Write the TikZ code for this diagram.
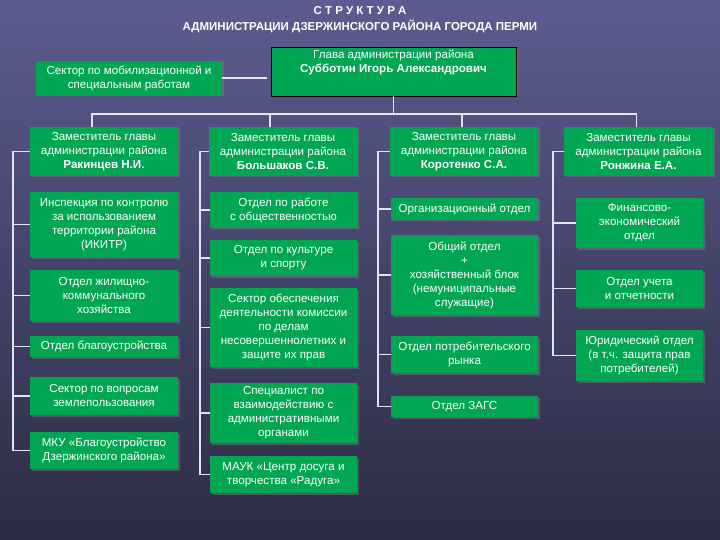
\documentclass[tikz,border=0pt]{standalone}
\usepackage{fontspec}
\setmainfont{Liberation Sans}
\usetikzlibrary{shadows}
\definecolor{boxgreen}{RGB}{0,166,81}
\definecolor{linewhite}{RGB}{226,226,242}
\definecolor{bgtop}{RGB}{92,92,144}
\definecolor{bgbottom}{RGB}{44,44,68}

\begin{document}
\begin{tikzpicture}[x=1pt,y=-1pt,
        box/.style={fill=boxgreen,text=white,align=center,inner sep=0pt,
            font=\fontsize{11.6}{14}\selectfont,
            drop shadow={shadow xshift=1.5pt,shadow yshift=-1.5pt,opacity=0.45}},
        conn/.style={draw=linewhite,line width=1.8pt},
        titletext/.style={text=white,font=\bfseries\fontsize{11.5}{13}\selectfont}]
        \useasboundingbox (0,0) rectangle (720,540);
        \shade [top color=bgtop,bottom color=bgbottom] (0,0) rectangle (720,540);
        \node [titletext] (title1) at (360,11) {С Т Р У К Т У Р А};
        \node [titletext] (title2) at (360,26) {АДМИНИСТРАЦИИ ДЗЕРЖИНСКОГО РАЙОНА ГОРОДА ПЕРМИ};
        \node [box,minimum width=186pt,minimum height=34pt] (mob) at (129,78) {Сектор по мобилизационной и\\специальным работам};
        \node [box,draw=black,line width=0.8pt,minimum width=245pt,minimum height=49pt] (glava) at (393.5,71.5) {};
        \node [text=white,align=center,anchor=north,inner sep=0pt,font=\fontsize{11.6}{14}\selectfont] (glavat) at (393.5,50) {Глава администрации района\\\textbf{Субботин Игорь Александрович}};
        \node [box,minimum width=148pt,minimum height=49pt] (dep1) at (104,151.5) {Заместитель главы\\администрации района\\\textbf{Ракинцев Н.И.}};
        \node [box,minimum width=148pt,minimum height=49pt] (dep2) at (283,151.5) {Заместитель главы\\администрации района\\\textbf{Большаков С.В.}};
        \node [box,minimum width=148pt,minimum height=49pt] (dep3) at (464,151.5) {Заместитель главы\\администрации района\\\textbf{Коротенко С.А.}};
        \node [box,minimum width=149pt,minimum height=49pt] (dep4) at (638.5,151.5) {Заместитель главы\\администрации района\\\textbf{Ронжина Е.А.}};
        \node [box,minimum width=148pt,minimum height=65pt] (insp) at (104,224.5) {Инспекция по контролю\\за использованием\\территории района\\(ИКИТР)};
        \node [box,minimum width=148pt,minimum height=51pt] (zhkh) at (104,295.5) {Отдел жилищно-\\коммунального\\хозяйства};
        \node [box,minimum width=148pt,minimum height=21pt] (blag) at (104,346.5) {Отдел благоустройства};
        \node [box,minimum width=148pt,minimum height=38pt] (zeml) at (104,396) {Сектор по вопросам\\землепользования};
        \node [box,minimum width=148pt,minimum height=37pt] (mku) at (104,450.5) {МКУ «Благоустройство\\Дзержинского района»};
        \node [box,minimum width=147pt,minimum height=36pt] (obshch) at (283.5,210) {Отдел по работе\\с общественностью};
        \node [box,minimum width=147pt,minimum height=36pt] (kult) at (283.5,258) {Отдел по культуре\\и спорту};
        \node [box,minimum width=147pt,minimum height=79pt] (kdn) at (283.5,327.5) {Сектор обеспечения\\деятельности комиссии\\по делам\\несовершеннолетних и\\защите их прав};
        \node [box,minimum width=147pt,minimum height=60pt] (spec) at (283.5,413) {Специалист по\\взаимодействию с\\административными\\органами};
        \node [box,minimum width=147pt,minimum height=37pt] (mauk) at (283.5,474.5) {МАУК «Центр досуга и\\творчества «Радуга»};
        \node [box,minimum width=147pt,minimum height=22pt] (org) at (464.5,209) {Организационный отдел};
        \node [box,minimum width=147pt,minimum height=80pt] (obotd) at (464.5,275) {Общий отдел\\+\\хозяйственный блок\\(немуниципальные\\служащие)};
        \node [box,minimum width=147pt,minimum height=37pt] (potr) at (464.5,354.5) {Отдел потребительского\\рынка};
        \node [box,minimum width=147pt,minimum height=21pt] (zags) at (464.5,406.5) {Отдел ЗАГС};
        \node [box,minimum width=127pt,minimum height=50pt] (fin) at (639.5,223) {Финансово-\\экономический\\отдел};
        \node [box,minimum width=127pt,minimum height=37pt] (uchet) at (639.5,288.5) {Отдел учета\\и отчетности};
        \node [box,minimum width=127pt,minimum height=51pt] (yur) at (639.5,355.5) {Юридический отдел\\(в т.ч. защита прав\\потребителей)};
        \draw [conn] (mob.east) -- ([xshift=-4pt]glava.west |- mob.east);
        \draw [conn] (glava.south) -- ++(0,18) coordinate (bus);
        \draw [conn] ([xshift=-12pt]dep1.north) |- (bus) -| ([xshift=-2pt]dep4.north);
        \draw [conn] ([xshift=-13pt]dep2.north) -- ([xshift=-13pt]dep2.north |- bus);
        \draw [conn] ([xshift=-2pt]dep3.north) -- ([xshift=-2pt]dep3.north |- bus);
        \draw [conn] (dep1.west) -- ++(-17,0) coordinate (rail1) |- (mku.west);
        \draw [conn] (insp.west) -- (insp.west -| rail1);
        \draw [conn] (zhkh.west) -- (zhkh.west -| rail1);
        \draw [conn] (blag.west) -- (blag.west -| rail1);
        \draw [conn] (zeml.west) -- (zeml.west -| rail1);
        \draw [conn] (dep2.west) -- ++(-9,0) coordinate (rail2) |- (mauk.west);
        \draw [conn] (obshch.west) -- (obshch.west -| rail2);
        \draw [conn] (kult.west) -- (kult.west -| rail2);
        \draw [conn] (kdn.west) -- (kdn.west -| rail2);
        \draw [conn] (spec.west) -- (spec.west -| rail2);
        \draw [conn] (dep3.west) -- ++(-12,0) coordinate (rail3) |- (zags.west);
        \draw [conn] (org.west) -- (org.west -| rail3);
        \draw [conn] (obotd.west) -- (obotd.west -| rail3);
        \draw [conn] (potr.west) -- (potr.west -| rail3);
        \draw [conn] (dep4.west) -- ++(-11,0) coordinate (rail4) |- (yur.west);
        \draw [conn] (fin.west) -- (fin.west -| rail4);
        \draw [conn] (uchet.west) -- (uchet.west -| rail4);
\end{tikzpicture}
\end{document}
